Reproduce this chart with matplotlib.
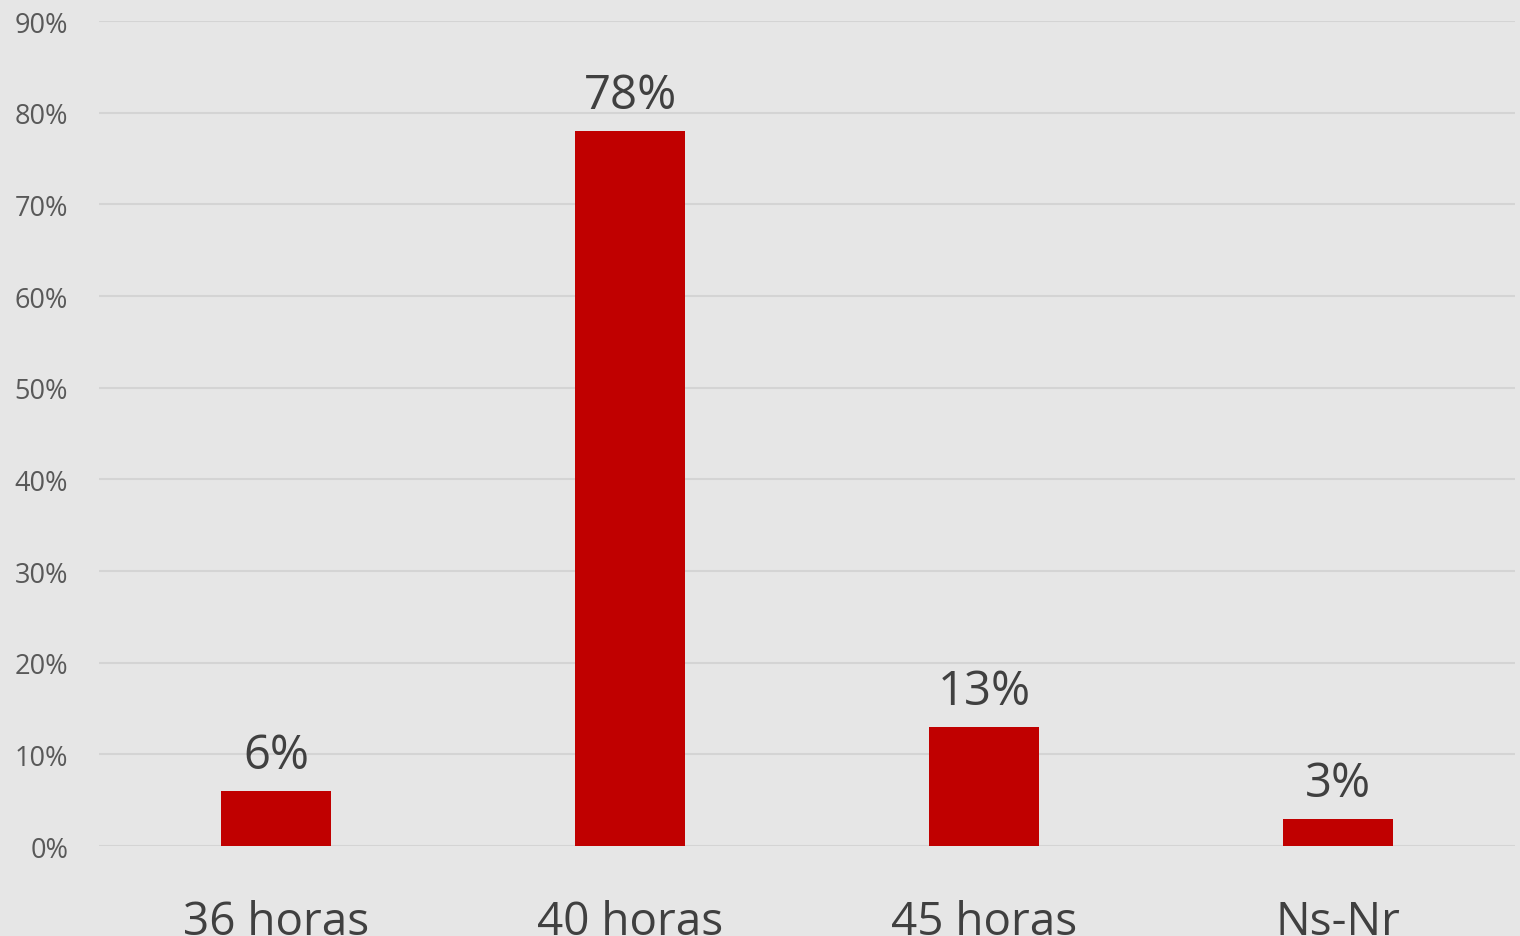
import matplotlib.pyplot as plt
from matplotlib.ticker import PercentFormatter

categories = ["36 horas", "40 horas", "45 horas", "Ns-Nr"]
values = [6, 78, 13, 3]
y_ticks = [0, 10, 20, 30, 40, 50, 60, 70, 80, 90]

plt.rcParams['font.family'] = ['Open Sans', 'DejaVu Sans']

fig = plt.figure(figsize=(15.2, 9.37), dpi=100)
fig.patch.set_facecolor('#e6e6e6')
ax = fig.add_axes([0.065, 0.096, 0.932, 0.8805])
ax.set_facecolor('#e6e6e6')

x = range(len(categories))
ax.bar(x, values, width=0.31, color='#c00000', zorder=3)

for xi, v in zip(x, values):
    ax.text(xi, v + 1.3, f"{v}%", ha='center', va='bottom',
            fontsize=34, color='#404040')

ax.set_xlim(-0.5, len(categories) - 0.5)
ax.set_ylim(0, 90)
ax.set_yticks(y_ticks)
ax.yaxis.set_major_formatter(PercentFormatter(decimals=0))
ax.set_xticks(list(x))
ax.set_xticklabels(categories)
ax.tick_params(axis='x', length=0, pad=38, labelsize=33, labelcolor='#404040')
ax.tick_params(axis='y', length=0, pad=22, labelsize=19.5, labelcolor='#595959')
ax.grid(axis='y', color='#d4d4d4', linewidth=1.5, zorder=0)
for s in ax.spines.values():
    s.set_visible(False)

fig.savefig("out.png", dpi=100, facecolor=fig.get_facecolor())
